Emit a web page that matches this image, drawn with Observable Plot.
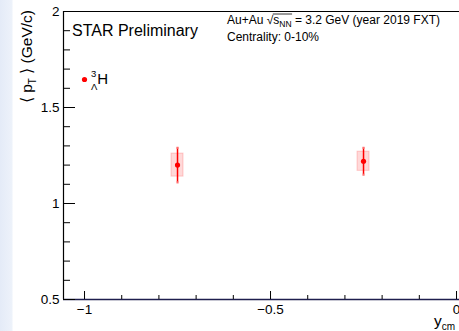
<!DOCTYPE html>
<html><head><meta charset="utf-8">
<script src="https://cdn.jsdelivr.net/npm/d3@7"></script>
<script src="https://cdn.jsdelivr.net/npm/@observablehq/plot@0.6"></script>
<style>
body{margin:0;background:#fff;}
#wrap{width:459px;height:331px;overflow:hidden;background:linear-gradient(to right,#e4ebf7 0px,#edf2fa 12px,#ffffff 13px);}
#wrap svg{display:block;}
</style></head><body><div id="wrap"></div>
<script>
// ---- data ----
const rapidity = [-0.75, -0.25];
const meanPt   = [1.20, 1.22];
const statErr  = [0.09, 0.07];
const sysErr   = [0.06, 0.05];
const yMajorTicks = [0.5, 1, 1.5, 2];
const yMinorTicks = [0.6, 0.7, 0.8, 0.9, 1.1, 1.2, 1.3, 1.4, 1.6, 1.7, 1.8, 1.9];
const xMajorTicks = [-1, -0.5, 0];
const xMinorTicks = [-0.9, -0.8, -0.7, -0.6, -0.4, -0.3, -0.2, -0.1];
const xDomain = [-1.0565, 0.008];
const yDomain = [0.5, 2];

const data = rapidity.map((x, i) => ({x, y: meanPt[i], stat: statErr[i], sys: sysErr[i]}));

const W = 459, H = 331, mL = 63, mT = 11, mR = 0, mB = 32;
const innerW = W - mL - mR, innerH = H - mT - mB;
const FONT = '"Liberation Sans", Arial, Helvetica, sans-serif';
const fmt = d => d < 0 ? "\u2212" + String(Math.abs(d)) : String(d);

const plot = Plot.plot({
  width: W, height: H,
  marginLeft: mL, marginTop: mT, marginRight: mR, marginBottom: mB,
  style: {background: "transparent", fontFamily: FONT, color: "#000"},
  x: {domain: xDomain},
  y: {domain: yDomain},
  marks: [
    // systematic boxes
    Plot.rect(data, {x1: "x", x2: "x", y1: d => d.y - d.sys, y2: d => d.y + d.sys,
      insetLeft: -6, insetRight: -6, fill: "#ff0000", fillOpacity: 0.15,
      stroke: "#ff0000", strokeOpacity: 0.18}),
    // statistical error bars
    Plot.ruleX(data, {x: "x", y1: d => d.y - d.stat, y2: d => d.y + d.stat, stroke: "#ff0000", strokeWidth: 1.5}),
    Plot.dot(data, {x: "x", y: d => d.y + d.stat, symbol: "square", r: 1.2, fill: "#ff7070", stroke: null}),
    Plot.dot(data, {x: "x", y: d => d.y - d.stat, symbol: "square", r: 1.2, fill: "#ff7070", stroke: null}),
    Plot.dot(data, {x: "x", y: "y", r: 2.6, fill: "#ff0000", stroke: null}),
    // frame lines
    Plot.ruleX([xDomain[0]], {stroke: "#000", strokeWidth: 1.2}),
    Plot.ruleY([yDomain[1]], {stroke: "#000", strokeWidth: 1}),
    Plot.ruleY([yDomain[0]], {stroke: "#1e1e4e", strokeWidth: 1.4}),
    // inner ticks (ROOT style)
    Plot.tickY(yMajorTicks, {y: d => d, insetRight: innerW - 12, stroke: "#000"}),
    Plot.tickY(yMinorTicks, {y: d => d, insetRight: innerW - 7, stroke: "#000"}),
    Plot.tickX(xMajorTicks, {x: d => d, insetTop: innerH - 8, stroke: "#000"}),
    Plot.tickX(xMinorTicks, {x: d => d, insetTop: innerH - 4, stroke: "#000"}),
    // axis labels
    Plot.axisY({ticks: yMajorTicks, tickSize: 0, tickPadding: 4, fontSize: 13.5, label: null, tickFormat: fmt}),
    Plot.axisX({ticks: xMajorTicks, tickSize: 0, tickPadding: 5, fontSize: 13.5, label: null, tickFormat: fmt}),
    // legend entry
    Plot.dot([0], {frameAnchor: "top-left", dx: 21, dy: 68, r: 2.6, fill: "#ff0000", stroke: null})
  ]
});
document.getElementById("wrap").appendChild(plot);

const svg = d3.select(plot);
const g = svg.append("g").attr("font-family", FONT).attr("fill", "#000").attr("text-anchor", "start");

// y axis title
const yt = g.append("text").attr("transform", "translate(32,10) rotate(-90)")
  .attr("text-anchor", "end").attr("font-size", 15.5);
yt.append("tspan").text("\u27E8 p");
yt.append("tspan").attr("font-size", 10).attr("dy", 4).text("T");
yt.append("tspan").attr("dy", -4).text(" \u27E9 (GeV/c)");

// x axis title
const xt = g.append("text").attr("x", 434).attr("y", 326).attr("font-size", 15.5);
xt.append("tspan").text("y");
xt.append("tspan").attr("font-size", 10).attr("dy", 4).text("cm");

// STAR Preliminary
g.append("text").attr("x", mL + 9).attr("y", 36).attr("font-size", 16).text("STAR Preliminary");

// collision annotation
const at = g.append("text").attr("x", 227).attr("y", 24).attr("font-size", 12);
at.append("tspan").text("Au+Au \u221A");
at.append("tspan").text("s");
at.append("tspan").attr("font-size", 8.5).attr("dy", 3).text("NN");
at.append("tspan").attr("dy", -3).text(" = 3.2 GeV (year 2019 FXT)");
const atNode = at.node();
const x0 = atNode.getEndPositionOfChar(6).x;
const x1 = atNode.getEndPositionOfChar(9).x;
g.append("line").attr("x1", x0 - 0.5).attr("x2", x1 + 0.5).attr("y1", 14).attr("y2", 14)
  .attr("stroke", "#000").attr("stroke-width", 0.8);
g.append("text").attr("x", 227).attr("y", 41).attr("font-size", 12).text("Centrality: 0-10%");

// legend label
const lt = g.append("text").attr("x", 91).attr("y", 84).attr("font-size", 15);
lt.append("tspan").attr("font-size", 9.5).attr("dy", -7).text("3");
lt.append("tspan").attr("font-size", 9.5).attr("x", 91).attr("dy", 13).text("\u039B");
lt.append("tspan").attr("dy", -6).text("H");
</script></body></html>
